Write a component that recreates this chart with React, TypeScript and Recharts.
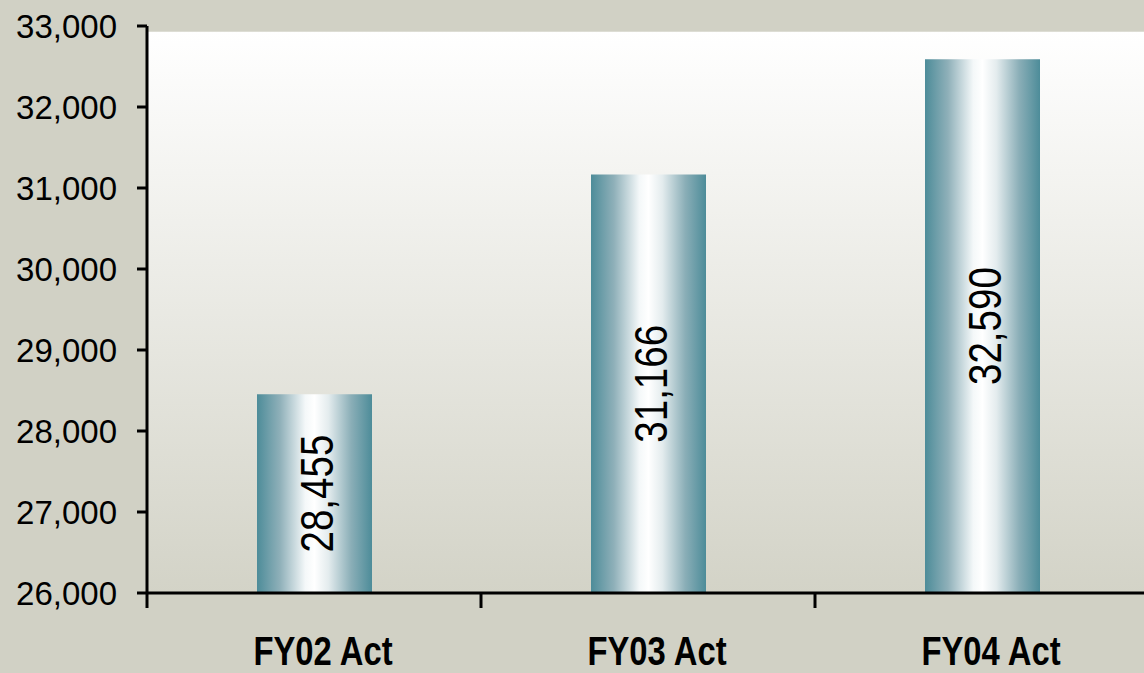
import { BarChart, Bar, XAxis, YAxis, ReferenceArea, LabelList } from "recharts"

const categories = ["FY02 Act", "FY03 Act", "FY04 Act"]
const values = [28455, 31166, 32590]
const yTicks = [26000, 27000, 28000, 29000, 30000, 31000, 32000, 33000]

const data = categories.map((name, i) => ({ name, value: values[i] }))

const CHART_W = 1149
const CHART_H = 673
const AXIS_W = 147
const BAND = (CHART_W - AXIS_W) / categories.length
const SANS = "'Liberation Sans', Arial, sans-serif"
// no narrow face installed, so squeeze the regular one
const SQUEEZE = 0.82

function CategoryTick(props: any) {
  const { x, y, payload } = props
  const edge = x - BAND / 2
  return (
    <g>
      <line x1={edge} x2={edge} y1={y} y2={y + 15} stroke="#000" strokeWidth={3} />
      <text
        transform={`translate(${x + 9} ${y + 72}) scale(${SQUEEZE} 1)`}
        textAnchor="middle"
        fontFamily={SANS}
        fontWeight="bold"
        fontSize={40}
        fill="#000"
      >
        {payload.value}
      </text>
    </g>
  )
}

function BarValue(props: any) {
  const { x, y, width, height, value } = props
  const cx = x + width / 2 + 2
  const cy = y + height / 2
  return (
    <text
      transform={`translate(${cx} ${cy}) rotate(-90) scale(${SQUEEZE} 1)`}
      textAnchor="middle"
      dominantBaseline="central"
      fontFamily={SANS}
      fontSize={47}
      fill="#000"
    >
      {Number(value).toLocaleString("en-US")}
    </text>
  )
}

export default function App() {
  return (
    <div
      style={{
        position: "absolute",
        left: 0,
        top: 0,
        width: 1144,
        height: 673,
        overflow: "hidden",
        background: "#d1d1c5",
      }}
    >
      <BarChart
        width={CHART_W}
        height={CHART_H}
        data={data}
        margin={{ top: 26, right: 0, bottom: 0, left: 0 }}
      >
        <defs>
          <linearGradient id="plotBg" x1="0" y1="0" x2="0" y2="1">
            <stop offset="0%" stopColor="#ffffff" />
            <stop offset="100%" stopColor="#d3d3c7" />
          </linearGradient>
          <linearGradient id="barFill" x1="0" y1="0" x2="1" y2="0">
            <stop offset="0%" stopColor="#4d8c99" />
            <stop offset="20%" stopColor="#8fb0b9" />
            <stop offset="42%" stopColor="#f4f8f9" />
            <stop offset="50%" stopColor="#ffffff" />
            <stop offset="62%" stopColor="#e4ecee" />
            <stop offset="82%" stopColor="#8aaeb7" />
            <stop offset="100%" stopColor="#4d8c99" />
          </linearGradient>
        </defs>
        <ReferenceArea y1={26000} y2={32930} fill="url(#plotBg)" fillOpacity={1} stroke="none" />
        <XAxis
          dataKey="name"
          height={80}
          axisLine={{ stroke: "#000", strokeWidth: 3 }}
          tickLine={false}
          tickSize={0}
          tickMargin={0}
          tick={<CategoryTick />}
          interval={0}
        />
        <YAxis
          width={AXIS_W}
          domain={[26000, 33000]}
          ticks={yTicks}
          allowDataOverflow
          axisLine={{ stroke: "#000", strokeWidth: 3 }}
          tickLine={{ stroke: "#000", strokeWidth: 3 }}
          tickSize={10}
          tickMargin={20}
          tickFormatter={(v: number) => v.toLocaleString("en-US")}
          tick={{ fill: "#000", fontSize: 33, fontFamily: SANS }}
        />
        <Bar dataKey="value" barSize={115} fill="url(#barFill)" isAnimationActive={false}>
          <LabelList dataKey="value" content={<BarValue />} />
        </Bar>
      </BarChart>
    </div>
  )
}
